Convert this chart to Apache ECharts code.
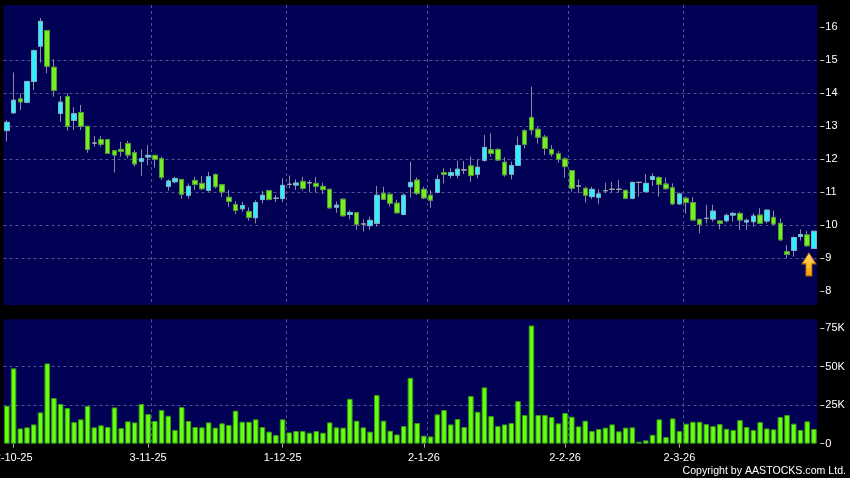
<!DOCTYPE html>
<html><head><meta charset="utf-8">
<script src="https://cdn.jsdelivr.net/npm/echarts@6/dist/echarts.min.js"></script>
<style>html,body{margin:0;padding:0;background:#000;}#c{width:850px;height:478px;}</style>
</head><body><div id="c"></div>
<script>
const dates = [
'30-9-25',
'2-10-25','3-10-25','6-10-25','8-10-25','9-10-25','10-10-25','13-10-25','14-10-25','15-10-25','16-10-25','17-10-25','20-10-25','21-10-25','22-10-25','23-10-25','24-10-25','27-10-25','28-10-25','30-10-25','31-10-25',
'3-11-25','4-11-25','5-11-25','6-11-25','7-11-25','10-11-25','11-11-25','12-11-25','13-11-25','14-11-25','17-11-25','18-11-25','19-11-25','20-11-25','21-11-25','24-11-25','25-11-25','26-11-25','27-11-25','28-11-25',
'1-12-25','2-12-25','3-12-25','4-12-25','5-12-25','8-12-25','9-12-25','10-12-25','11-12-25','12-12-25','15-12-25','16-12-25','17-12-25','18-12-25','19-12-25','22-12-25','23-12-25','24-12-25','29-12-25','30-12-25','31-12-25',
'2-1-26','5-1-26','6-1-26','7-1-26','8-1-26','9-1-26','12-1-26','13-1-26','14-1-26','15-1-26','16-1-26','19-1-26','20-1-26','21-1-26','22-1-26','23-1-26','26-1-26','27-1-26','28-1-26','29-1-26','30-1-26',
'2-2-26','3-2-26','4-2-26','5-2-26','6-2-26','9-2-26','10-2-26','11-2-26','12-2-26','13-2-26','16-2-26','20-2-26','23-2-26','24-2-26','25-2-26','26-2-26','27-2-26',
'2-3-26','3-3-26','4-3-26','5-3-26','6-3-26','9-3-26','10-3-26','11-3-26','12-3-26','13-3-26','16-3-26','17-3-26','18-3-26','19-3-26','20-3-26','23-3-26','24-3-26','25-3-26','26-3-26','27-3-26','30-3-26'
];
const opens = [
12.87,13.41,13.83,13.73,14.36,15.43,15.90,14.79,13.39,13.90,13.18,13.42,13.00,12.49,12.60,12.60,12.26,12.30,12.48,12.20,11.94,12.07,12.12,12.02,
11.18,11.32,11.39,10.91,11.36,11.27,11.06,11.54,11.23,10.85,10.63,10.50,10.42,10.23,10.78,11.05,10.82,10.81,11.24,11.22,11.33,11.29,11.27,11.18,11.09,
10.55,10.79,10.33,10.38,10.04,9.99,10.06,10.97,10.94,10.67,10.33,11.17,11.37,11.09,10.91,11.00,11.60,11.51,11.52,11.68,11.80,11.55,11.97,12.29,12.30,
11.91,11.55,11.82,12.87,13.27,12.91,12.67,12.30,12.17,12.01,11.66,11.19,11.12,10.87,10.85,11.05,11.09,11.09,11.06,10.82,11.30,11.02,11.39,11.45,
11.25,11.14,10.65,10.82,10.69,10.18,10.21,10.19,10.13,10.14,10.31,10.36,10.10,10.11,10.31,10.13,10.24,10.06,9.20,9.24,9.66,9.71,9.30
];
const closes = [
13.12,13.79,13.74,14.36,15.29,16.18,14.82,14.09,13.73,13.00,13.38,13.00,12.30,12.49,12.46,12.18,12.13,12.24,12.13,11.86,12.02,12.12,12.00,11.45,
11.34,11.42,10.94,11.18,11.24,11.11,11.47,11.17,11.01,10.72,10.45,10.60,10.24,10.69,10.91,10.78,10.82,11.21,11.24,11.28,11.12,11.29,11.18,11.08,10.53,
10.61,10.29,10.39,10.03,10.04,10.15,10.91,10.79,10.67,10.38,10.91,11.30,10.97,10.83,10.76,11.39,11.54,11.60,11.70,11.68,11.51,11.76,12.36,12.18,11.98,
11.53,11.81,12.42,12.45,12.89,12.67,12.33,12.16,12.00,11.78,11.12,11.19,10.91,11.09,10.95,11.05,11.09,11.09,10.82,11.30,11.30,11.27,11.48,11.24,
11.11,10.65,10.95,10.69,10.16,10.03,10.21,10.43,10.06,10.30,10.36,10.16,10.15,10.28,10.06,10.46,10.04,9.56,9.12,9.63,9.72,9.38,9.82
];
const lows = [
12.54,13.37,13.49,13.70,14.10,14.93,14.61,13.90,13.14,12.87,12.89,12.89,12.20,12.38,12.38,12.16,11.60,12.08,12.03,11.78,11.49,11.82,11.75,11.37,
11.05,11.27,10.80,10.81,11.07,11.07,11.02,11.12,10.85,10.56,10.34,10.41,10.14,10.06,10.66,10.76,10.71,10.70,11.12,11.07,11.05,11.00,10.99,10.95,10.51,
10.38,10.26,10.18,9.86,9.81,9.86,9.96,10.77,10.57,10.36,10.31,10.84,10.92,10.79,10.53,10.97,11.27,11.42,11.42,11.55,11.32,11.42,11.93,12.08,11.95,
11.47,11.39,11.80,12.33,12.74,12.48,12.13,12.08,11.90,11.45,11.02,10.97,10.69,10.79,10.65,10.97,10.99,10.99,10.79,10.79,10.87,10.99,11.19,10.87,
11.07,10.62,10.62,10.36,10.14,9.76,10.06,10.11,9.88,10.08,10.11,9.86,9.86,9.96,10.04,10.06,10.01,9.53,9.00,9.05,9.54,9.35,9.30
];
const highs = [
13.19,14.63,14.00,14.36,15.33,16.28,15.90,15.03,13.92,14.00,13.58,13.65,13.00,12.71,12.71,12.60,12.28,12.53,12.56,12.28,12.30,12.43,12.13,12.08,
11.39,11.47,11.39,11.27,11.47,11.49,11.62,11.57,11.25,11.07,10.73,10.71,10.54,10.76,11.04,11.07,10.92,11.42,11.51,11.39,11.47,11.37,11.46,11.29,11.09,
10.72,10.82,10.46,10.38,10.18,10.26,11.19,11.17,10.97,10.77,10.97,11.93,11.45,11.17,11.07,11.53,11.73,11.73,11.96,11.95,12.08,12.00,12.74,12.79,12.33,
12.06,11.93,12.69,12.91,14.20,12.99,12.74,12.43,12.25,12.06,11.68,11.39,11.17,11.17,11.09,11.29,11.32,11.37,11.07,11.32,11.30,11.55,11.58,11.49,
11.45,11.27,10.99,10.87,10.85,10.18,10.62,10.62,10.16,10.36,10.41,10.41,10.21,10.36,10.52,10.48,10.44,10.21,9.40,9.66,9.88,9.83,9.83
];
const volumes = [
24600,48800,9900,10600,12500,20300,52000,29600,25700,23100,14000,15800,24400,10600,11900,10800,23500,10100,14500,13800,25700,
19200,14700,21800,18100,8900,23700,14700,10800,10600,13800,10400,13200,12100,21400,14200,14200,15800,10800,7800,5600,
15800,7300,8200,8200,7100,8200,7100,13800,10600,10400,29100,14900,10600,7800,31500,14900,8400,6000,11400,42700,13400,
5200,4700,19000,21800,12500,16000,10800,30900,20700,36500,17900,11400,12500,13400,27600,18600,76600,18600,18600,17300,13200,
19900,17500,11200,14900,8200,9500,10400,12500,8000,10400,10600,1300,2200,5800,15800,4300,16400,
8200,13000,14200,14200,12700,11400,12700,9700,8900,15300,10800,8900,14000,9900,9300,17300,18600,13000,8900,14500,9500
];
const xTickLabels = ['2-10-25','3-11-25','1-12-25','2-1-26','2-2-26','2-3-26'];
const priceTicks = [8,9,10,11,12,13,14,15,16];
const volumeTicks = [0,25000,50000,75000];

const labelIdx = xTickLabels.map(l => dates.indexOf(l));
const gridIdx = labelIdx.map(i => i + 1);

const wickData = dates.map((d, i) => [opens[i], closes[i], lows[i], highs[i]]);
const bodyData = dates.map((d, i) => [opens[i], closes[i], Math.min(opens[i], closes[i]), Math.max(opens[i], closes[i])]);
const last = dates.length - 1;

const gridLine = {color: '#52528e', width: 1, type: [3, 3]};
const chart = echarts.init(document.getElementById('c'), null, {renderer: 'canvas'});
chart.setOption({
  animation: false,
  backgroundColor: '#000000',
  grid: [
    {left: 3.5, right: 32.7, top: 5, height: 300, backgroundColor: '#000055', show: true, borderWidth: 0, containLabel: false, outerBoundsMode: 'none'},
    {left: 3.5, right: 32.7, top: 319.3, height: 124.4, backgroundColor: '#000055', show: true, borderWidth: 0, containLabel: false, outerBoundsMode: 'none'}
  ],
  xAxis: [
    {type: 'category', gridIndex: 0, data: dates, boundaryGap: true,
     axisLine: {show: false}, axisTick: {show: false}, axisLabel: {show: false},
     splitLine: {show: true, interval: (i) => gridIdx.includes(i), lineStyle: gridLine, showMinLine: false, showMaxLine: false}},
    {type: 'category', gridIndex: 1, data: dates, boundaryGap: true,
     axisLine: {show: false},
     axisTick: {show: true, alignWithLabel: true, interval: (i, v) => xTickLabels.includes(v), length: 4, lineStyle: {color: '#aaaaaa'}},
     axisLabel: {interval: (i, v) => xTickLabels.includes(v), color: '#ffffff', fontSize: 11, margin: 9, fontFamily: 'Liberation Sans'},
     splitLine: {show: true, interval: (i) => gridIdx.includes(i), lineStyle: gridLine, showMinLine: false, showMaxLine: false}}
  ],
  yAxis: [
    {type: 'value', gridIndex: 0, position: 'right', offset: 3, min: 7.585, max: 16.676, splitNumber: 9,
     axisLine: {show: false},
     axisTick: {show: true, length: 4, lineStyle: {color: '#cccccc'}, customValues: priceTicks},
     axisLabel: {color: '#ffffff', fontSize: 11, margin: 5, fontFamily: 'Liberation Sans', customValues: priceTicks},
     splitLine: {show: true, lineStyle: gridLine, showMinLine: false, showMaxLine: false}},
    {type: 'value', gridIndex: 1, position: 'right', offset: 3, min: 0, max: 80600, interval: 25000,
     axisLine: {show: false},
     axisTick: {show: true, length: 4, lineStyle: {color: '#cccccc'}, customValues: volumeTicks},
     axisLabel: {color: '#ffffff', fontSize: 11, margin: 5, fontFamily: 'Liberation Sans', customValues: volumeTicks,
       formatter: v => v === 0 ? '0' : (v / 1000) + 'K'},
     splitLine: {show: true, lineStyle: gridLine, showMinLine: false, showMaxLine: false}}
  ],
  series: [
    {type: 'candlestick', name: 'wick', xAxisIndex: 0, yAxisIndex: 0, data: wickData, barWidth: 5,
     itemStyle: {color: '#33eeff', color0: '#77ee22', borderColor: '#8a8c9c', borderColor0: '#8a8c9c', borderColorDoji: '#8a8c9c', borderWidth: 1}},
    {type: 'candlestick', name: 'body', xAxisIndex: 0, yAxisIndex: 0, data: bodyData, barWidth: 5,
     itemStyle: {color: '#33eeff', color0: '#77ee22', borderColor: '#7fb0c0', borderColor0: '#4f9a30', borderColorDoji: '#a0a0a8', borderWidth: 1},
     markPoint: {
       silent: true,
       label: {show: false},
       data: [{
         coord: [dates[last], lows[last]],
         symbol: 'path://M7 0 L14 11 L10 11 L10 23 L4 23 L4 11 L0 11 Z',
         symbolSize: [14, 23],
         symbolKeepAspect: false,
         symbolOffset: [-5, 16],
         itemStyle: {
           color: new echarts.graphic.LinearGradient(0, 0, 0, 1, [{offset: 0, color: '#ffe070'}, {offset: 1, color: '#ff9a00'}]),
           borderColor: '#b06a00', borderWidth: 1
         }
       }]
     }},
    {type: 'bar', name: 'volume', xAxisIndex: 1, yAxisIndex: 1, data: volumes, barWidth: 5.5,
     itemStyle: {color: '#66ff11', borderColor: '#3a9a10', borderWidth: 1}}
  ],
  graphic: [
    {type: 'text', right: 4, top: 466, style: {text: 'Copyright by AASTOCKS.com Ltd.', fill: '#ffffff', font: '10.6px "Liberation Sans"'}}
  ]
});
</script>
</body></html>
